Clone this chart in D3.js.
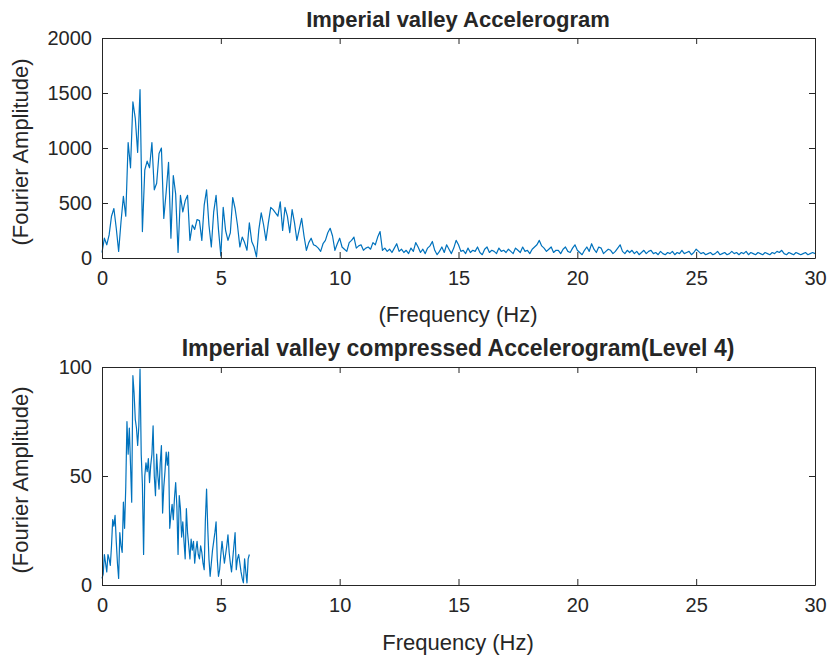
<!DOCTYPE html>
<html>
<head>
<meta charset="utf-8">
<script src="https://cdn.jsdelivr.net/npm/d3@7"></script>
<style>
  body { margin: 0; background: #fff; }
  svg text { font-family: "Liberation Sans", Arial, sans-serif; fill: #262626; }
</style>
</head>
<body>
<div id="root"></div>
<script>
// Fourier amplitude, original record, one value every 0.1 Hz from 0 to 30 Hz
const origStep = 0.1;
const origAmp = [
  50, 180, 120, 210, 380, 450, 270, 60, 330, 560,
  380, 1050, 820, 1420, 1270, 960, 1530, 240, 800, 880,
  820, 1050, 620, 680, 950, 1000, 360, 600, 870, 180,
  750, 580, 50, 570, 420, 520, 570, 160, 300, 260,
  350, 340, 160, 480, 620, 300, 100, 420, 570, 260,
  20, 460, 250, 160, 230, 550, 450, 300, 100, 190,
  140, 70, 320, 150, 100, 10, 260, 410, 300, 160,
  320, 460, 440, 410, 380, 510, 250, 460, 380, 230,
  440, 320, 160, 260, 360, 200, 70, 140, 180, 120,
  110, 90, 60, 130, 160, 230, 270, 200, 70, 130,
  180, 100, 80, 60, 140, 160, 190, 90, 110, 120,
  70, 90, 100, 80, 140, 120, 190, 240, 70, 90,
  60, 80, 50, 90, 130, 60, 80, 50, 70, 40,
  90, 60, 140, 100, 50, 80, 40, 90, 110, 150,
  70, 30, 60, 100, 50, 120, 80, 40, 90, 160,
  120, 60, 70, 40, 90, 50, 70, 60, 100, 50,
  30, 80, 100, 50, 70, 60, 40, 90, 60, 70,
  50, 80, 60, 40, 90, 70, 50, 100, 60, 70,
  40, 80, 100, 120, 160, 110, 90, 60, 80, 100,
  50, 70, 70, 40, 80, 100, 60, 50, 90, 120,
  70, 50, 30, 70, 100, 60, 130, 80, 50, 100,
  90, 40, 60, 80, 70, 40, 60, 90, 120, 60,
  40, 70, 50, 70, 40, 60, 30, 50, 70, 40,
  60, 70, 40, 50, 30, 60, 40, 30, 50, 40,
  60, 30, 50, 40, 70, 40, 50, 60, 30, 50,
  80, 60, 40, 50, 30, 40, 50, 30, 40, 60,
  30, 40, 50, 30, 40, 60, 40, 50, 30, 50,
  40, 60, 30, 50, 40, 30, 50, 40, 30, 50,
  40, 30, 50, 40, 60, 50, 70, 40, 30, 50,
  40, 30, 50, 40, 30, 40, 50, 30, 40, 50,
  40
];

// compressed record (level 4), one value every 0.05 Hz from 0 to 6.2 Hz
const compStep = 0.05;
const compAmp = [
  3, 5, 14, 10, 6, 14, 12, 9, 18, 30,
  27, 32, 20, 10, 3, 24, 18, 15, 38, 26,
  45, 75, 60, 72, 55, 38, 96, 88, 76, 72,
  64, 73, 99, 60, 46, 14, 50, 56, 52, 58,
  47, 55, 60, 73, 50, 41, 60, 50, 44, 56,
  64, 33, 45, 52, 61, 55, 61, 26, 32, 37,
  30, 40, 47, 36, 14, 41, 35, 22, 29, 20,
  12, 35, 24, 18, 12, 21, 16, 20, 10, 16,
  20, 14, 12, 18, 15, 10, 7, 30, 44, 26,
  12, 4, 10, 16, 20, 24, 29, 12, 4, 7,
  14, 20, 15, 10, 14, 18, 23, 15, 10, 6,
  12, 18, 24, 7, 12, 14, 10, 6, 3, 1,
  12, 6, 1, 12, 14
];

const xTicks = [0, 5, 10, 15, 20, 25, 30];
const topYTicks = [0, 500, 1000, 1500, 2000];
const botYTicks = [0, 50, 100];

const W = 832, H = 661;
const svg = d3.select('#root').append('svg')
  .attr('width', W).attr('height', H);

function panel(cfg) {
  const x = d3.scaleLinear().domain([0, 30]).range([102, 815]);
  const y = d3.scaleLinear().domain(cfg.yDomain).range([cfg.bottom, cfg.top]);
  const g = svg.append('g');

  // data line
  const pts = cfg.values.map((v, i) => [i * cfg.step, v]);
  g.append('path')
    .datum(pts)
    .attr('fill', 'none')
    .attr('stroke', '#0072BD')
    .attr('stroke-width', 1.2)
    .attr('stroke-linejoin', 'round')
    .attr('d', d3.line().x(d => x(d[0])).y(d => y(d[1])));

  // axes, MATLAB style box with inward ticks
  const tl = 6;
  const fmt = d3.format('d');
  const bottomAxis = d3.axisBottom(x).tickValues(xTicks).tickFormat(fmt).tickSizeInner(-tl).tickSizeOuter(0).tickPadding(13);
  const leftAxis = d3.axisLeft(y).tickValues(cfg.yTicks).tickFormat(fmt).tickSizeInner(-tl).tickSizeOuter(0).tickPadding(10);
  const topAxis = d3.axisTop(x).tickValues(xTicks).tickSizeInner(-tl).tickSizeOuter(0).tickFormat('');
  const rightAxis = d3.axisRight(y).tickValues(cfg.yTicks).tickSizeInner(-tl).tickSizeOuter(0).tickFormat('');

  const gb = g.append('g').attr('transform', `translate(0,${cfg.bottom})`).call(bottomAxis);
  const gl = g.append('g').attr('transform', 'translate(102,0)').call(leftAxis);
  const gt = g.append('g').attr('transform', `translate(0,${cfg.top})`).call(topAxis);
  const gr = g.append('g').attr('transform', 'translate(815,0)').call(rightAxis);
  [gb, gl, gt, gr].forEach(a => {
    a.selectAll('path,line').attr('stroke', '#262626');
    a.selectAll('text').style('font-size', '20px').attr('fill', '#262626');
    a.select('.domain').attr('stroke-width', 1);
  });

  g.append('text')
    .attr('x', 458).attr('y', cfg.top - 11)
    .attr('text-anchor', 'middle')
    .style('font-size', cfg.titleSize).style('font-weight', 'bold')
    .attr('fill', '#000')
    .text(cfg.title);

  g.append('text')
    .attr('x', 458).attr('y', cfg.bottom + cfg.xLabelGap)
    .attr('text-anchor', 'middle')
    .style('font-size', '22px')
    .text(cfg.xLabel);

  g.append('text')
    .attr('transform', `translate(28,${(cfg.top + cfg.bottom) / 2 + 4})rotate(-90)`)
    .attr('text-anchor', 'middle')
    .style('font-size', '22px')
    .text('(Fourier Amplitude)');
}

panel({
  values: origAmp, step: origStep,
  yDomain: [0, 2000], yTicks: topYTicks,
  top: 38, bottom: 258,
  title: 'Imperial valley Accelerogram', titleSize: '22px',
  xLabel: '(Frequency (Hz)', xLabelGap: 64
});

panel({
  values: compAmp, step: compStep,
  yDomain: [0, 100], yTicks: botYTicks,
  top: 367, bottom: 585,
  title: 'Imperial valley compressed Accelerogram(Level 4)', titleSize: '23px',
  xLabel: 'Frequency (Hz)', xLabelGap: 65
});
</script>
</body>
</html>
